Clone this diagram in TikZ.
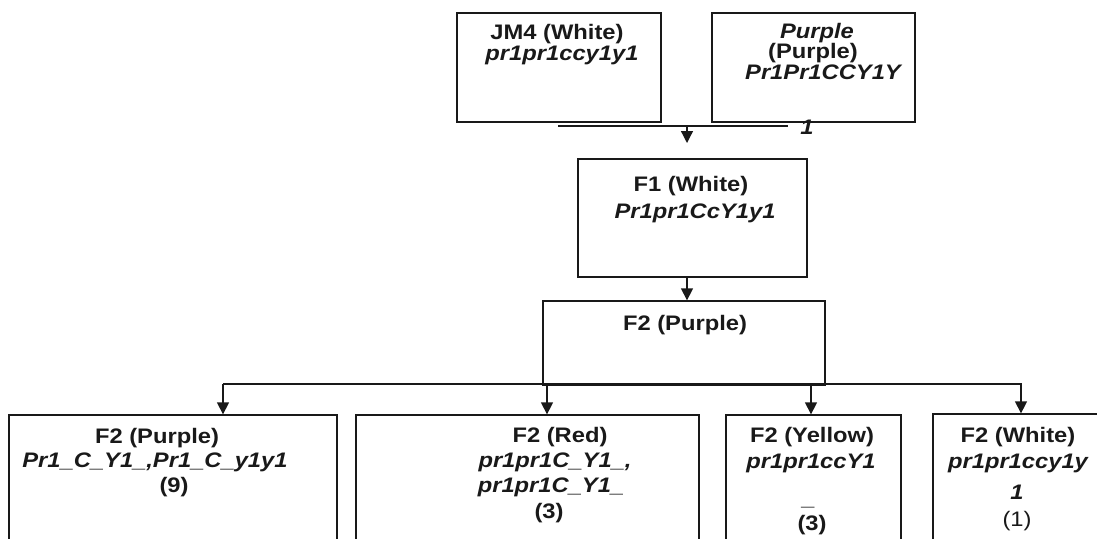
\documentclass[tikz,border=0pt]{standalone}
\usepackage{fontspec}
\setmainfont{Liberation Sans}[FakeStretch=1.13]
\usetikzlibrary{arrows.meta}
\begin{document}
\begin{tikzpicture}[x=1pt,y=-1pt,
  box/.style={draw=black!90,line width=1.3pt,inner sep=0pt},
  lbl/.style={inner sep=0pt,anchor=center,text=black!90,font=\fontsize{21}{24}\selectfont\bfseries},
  lbli/.style={lbl,font=\fontsize{21}{24}\selectfont\bfseries\itshape},
  lblr/.style={lbl,font=\fontsize{21}{24}\selectfont},
  conn/.style={draw=black!90,line width=1.3pt},
  arr/.style={conn,-{Triangle[width=12pt,length=12pt]}}]
\useasboundingbox (0,0) rectangle (1097,538);
\clip (0,0) rectangle (1097,538);
% boxes
\node[box,minimum width=204pt,minimum height=109pt] (jm4) at (559,67.5) {};
\node[box,minimum width=203pt,minimum height=109pt] (pur) at (813.5,67.5) {};
\node[box,minimum width=229pt,minimum height=118pt] (f1) at (692.5,218) {};
\node[box,minimum width=282pt,minimum height=84pt] (f2) at (684,343) {};
\node[box,minimum width=328pt,minimum height=145pt] (b1) at (173,487.5) {};
\node[box,minimum width=343pt,minimum height=145pt] (b2) at (527.5,487.5) {};
\node[box,minimum width=175pt,minimum height=145pt] (b3) at (813.5,487.5) {};
\node[box,minimum width=177pt,minimum height=146pt] (b4) at (1021.5,487) {};
% texts
\node[lbl] (t1a) at (557,34) {JM4 (White)};
\node[lbli] (t1b) at (562,55) {pr1pr1ccy1y1};
\node[lbli] (t2a) at (817,33) {Purple};
\node[lbl] (t2b) at (813,53) {(Purple)};
\node[lbli] (t2c) at (823,72) {Pr1Pr1CCY1Y};
\node[lbli] (t2d) at (807,127) {1};
\node[lbl] (t3a) at (691,186) {F1 (White)};
\node[lbli] (t3b) at (695,213) {Pr1pr1CcY1y1};
\node[lbl] (t4a) at (685,325) {F2 (Purple)};
\node[lbl] (t5a) at (157,438) {F2 (Purple)};
\node[lbli] (t5b) at (155,462) {Pr1\_C\_Y1\_,Pr1\_C\_y1y1};
\node[lbl] (t5c) at (174,487) {(9)};
\node[lbl] (t6a) at (560,437) {F2 (Red)};
\node[lbli] (t6b) at (555,462) {pr1pr1C\_Y1\_,};
\node[lbli] (t6c) at (551,487) {pr1pr1C\_Y1\_};
\node[lbl] (t6d) at (549,513) {(3)};
\node[lbl] (t7a) at (812,437) {F2 (Yellow)};
\node[lbli] (t7b) at (811,463) {pr1pr1ccY1};
\node[lbli,anchor=base] (t7c) at (809,505) {\_};
\node[lbl] (t7d) at (812,525) {(3)};
\node[lbl] (t8a) at (1018,437) {F2 (White)};
\node[lbli] (t8b) at (1018,463) {pr1pr1ccy1y};
\node[lbli] (t8c) at (1017,492) {1};
\node[lblr] (t8d) at (1017,521) {(1)};
% connectors
\coordinate (ja) at (558,126);
\coordinate (jb) at (788,126);
\coordinate (jm) at (687,126);
\coordinate (je) at (687,143);
\draw[conn] (ja) -- (jb);
\draw[arr] (jm) -- (je);
\draw[arr] (f1.south -| jm) -- (f2.north -| jm);
\coordinate (la) at (223,384);
\coordinate (lb) at (1022,384);
\draw[conn] (la) -- (lb);
\coordinate (a2) at (547,384);
\coordinate (a3) at (811,384);
\coordinate (a4) at (1021,384);
\draw[arr] (la) -- (b1.north -| la);
\draw[arr] (a2) -- (b2.north -| a2);
\draw[arr] (a3) -- (b3.north -| a3);
\draw[arr] (a4) -- (b4.north -| a4);
\end{tikzpicture}
\end{document}
